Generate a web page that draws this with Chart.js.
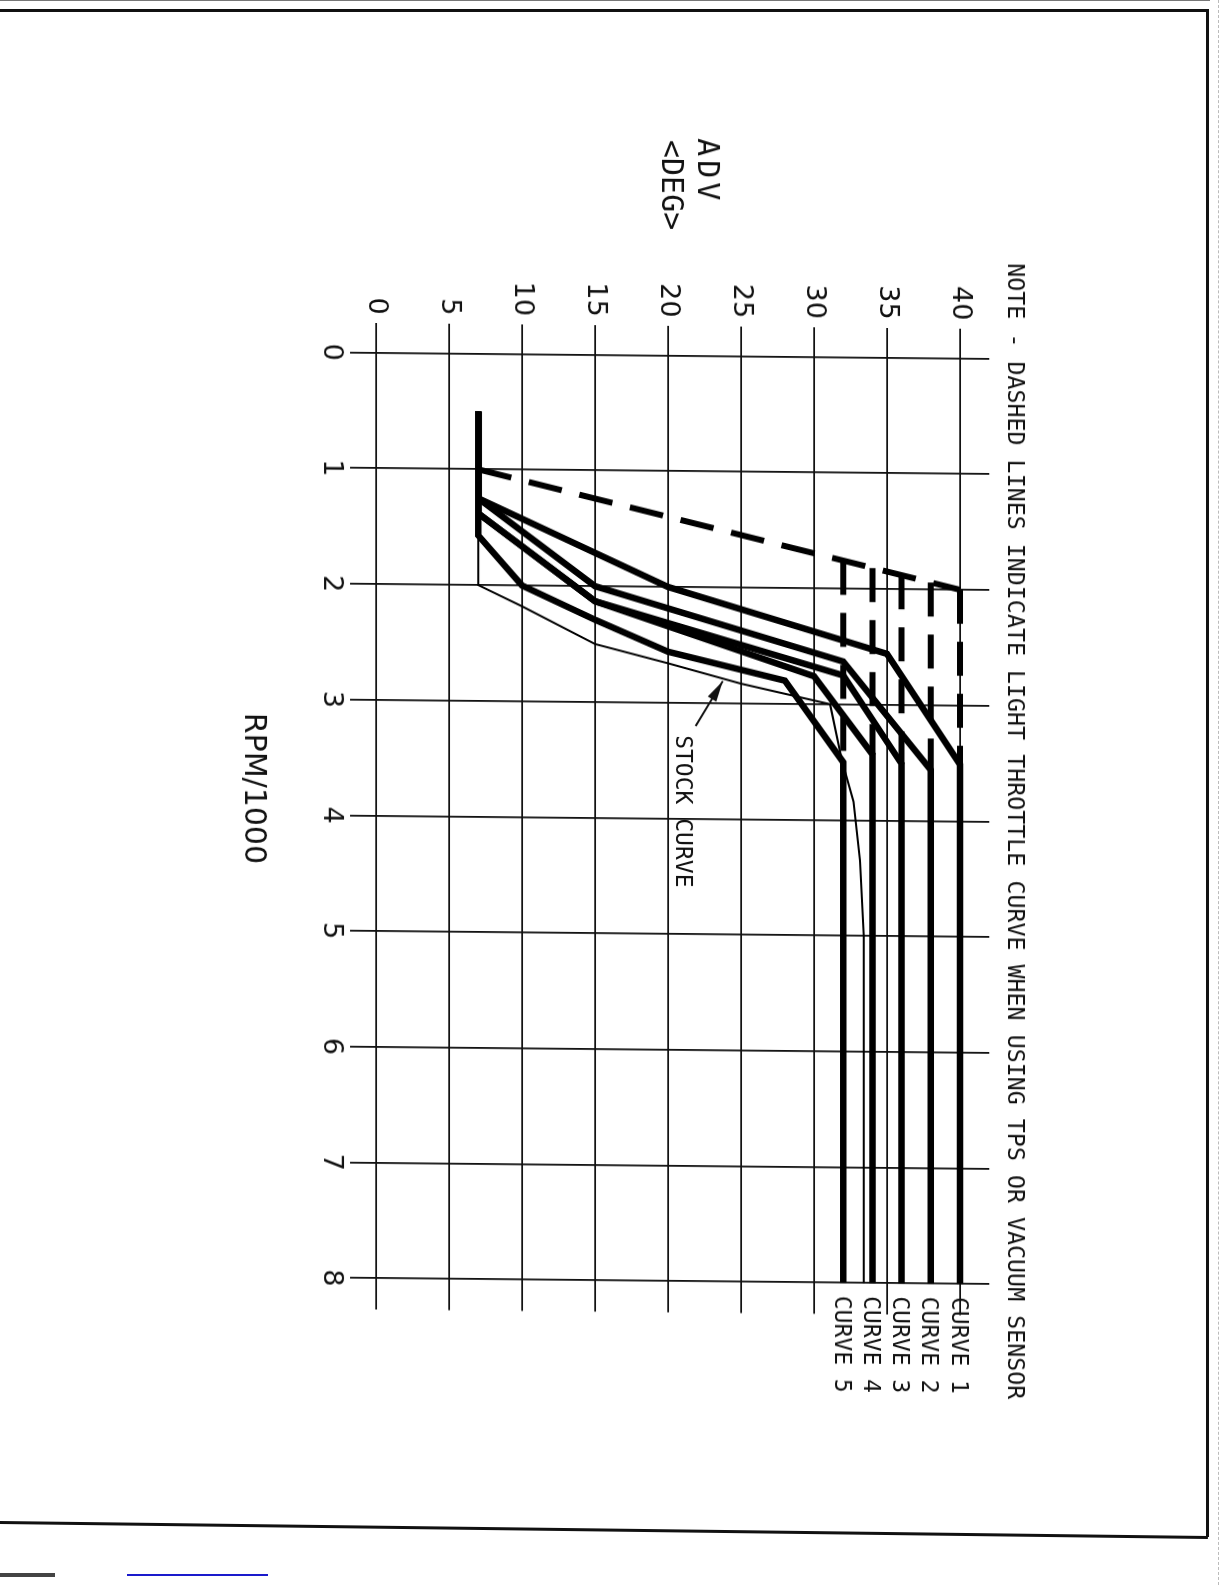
<!DOCTYPE html>
<html>
<head>
<meta charset="utf-8">
<script src="https://cdn.jsdelivr.net/npm/chart.js@4.4.0/dist/chart.umd.min.js"></script>
<style>
html,body{margin:0;padding:0;background:#fff;}
body{width:1225px;height:1585px;position:relative;overflow:hidden;}
/* the scanned sheet is slightly skewed, and the plot itself is turned a quarter turn */
#sheet{position:absolute;left:0;top:0;width:1225px;height:1585px;transform-origin:376px 352px;transform:skewY(0.56deg);}
#turn{position:absolute;left:0;top:0;width:1585px;height:1225px;transform-origin:0 0;transform:translateX(1225px) rotate(90deg);}
.rule{position:absolute;background:#111;}
</style>
</head>
<body>

<div id="sheet">
  <div id="turn">
    <canvas id="advanceChart" width="1585" height="1225"></canvas>
  </div>
</div>

<!-- page frame and scan marks -->
<div class="rule" style="left:0;top:0;width:1210px;height:1px;background:#777"></div>
<div class="rule" style="left:0;top:9px;width:1209px;height:3px"></div>
<div class="rule" style="left:1206px;top:9px;width:3px;height:1528px"></div>
<div class="rule" style="left:0;top:1521px;width:1208px;height:3px;transform-origin:0 50%;transform:rotate(0.71deg)"></div>
<div class="rule" style="left:1218px;top:0;width:0;height:1585px;background:none;border-left:1px dashed #bbb"></div>
<div class="rule" style="left:127px;top:1574px;width:141px;height:2px;background:#1a1acc"></div>
<div class="rule" style="left:0;top:1573px;width:55px;height:4px;background:#444"></div>

<script>
/* DATA  (rpm/1000, advance deg) */

const RPM_TICKS = [0, 1, 2, 3, 4, 5, 6, 7, 8];
const ADV_TICKS = [0, 5, 10, 15, 20, 25, 30, 35, 40];

const CURVE_NAMES = ["CURVE 1", "CURVE 2", "CURVE 3", "CURVE 4", "CURVE 5"];

const CURVE_1 = [[0.5,7],[1.25,7],[2.0,20],[2.56,35],[3.51,40],[8,40]];
const CURVE_2 = [[0.5,7],[1.25,7],[2.0,15],[2.63,32],[3.56,38],[8,38]];
const CURVE_3 = [[0.5,7],[1.38,7],[2.13,15],[2.75,32],[3.51,36],[8,36]];
const CURVE_4 = [[0.5,7],[1.38,7],[2.13,15],[2.76,30],[3.43,34],[8,34]];
const CURVE_5 = [[0.5,7],[1.57,7],[2.0,10],[2.29,15],[2.56,20],[2.8,28],[3.5,32],[8,32]];

const STOCK_CURVE = [[0.5,7],[2.0,7],[2.18,10],[2.5,15],[2.66,20],[2.83,25],[3.0,31.1],
  [3.48,31.9],[3.84,32.7],[4.35,33.15],[5.0,33.4],[8,33.4]];

// light throttle (dashed) : ramp, then drop at each curve's top advance
const LIGHT_THROTTLE = [[1.0,7],[2.0,40]];
const LIGHT_DROP_1 = [[2.0,40],[3.51,40]];
const LIGHT_DROP_2 = [[1.94,38],[3.56,38]];
const LIGHT_DROP_3 = [[1.88,36],[3.51,36]];
const LIGHT_DROP_4 = [[1.82,34],[3.43,34]];
const LIGHT_DROP_5 = [[1.76,32],[3.5,32]];

const NOTE_TEXT = "NOTE - DASHED LINES INDICATE LIGHT THROTTLE CURVE WHEN USING TPS OR VACUUM SENSOR";
const STOCK_LABEL = "STOCK CURVE";
const STOCK_LABEL_AT = [3.28, 21.1];
const STOCK_ARROW_FROM = [3.2, 21.9];
const STOCK_ARROW_TO = [2.81, 23.75];

const CURVES = [CURVE_1, CURVE_2, CURVE_3, CURVE_4, CURVE_5];
const LIGHT_DROPS = [LIGHT_DROP_1, LIGHT_DROP_2, LIGHT_DROP_3, LIGHT_DROP_4, LIGHT_DROP_5];

const INK = "#000";
const GRID = "#111";
const MONO = '"DejaVu Sans Mono"';
const SANS = '"DejaVu Sans"';

function toPoints(list){
  return list.map(([x, y]) => ({x, y}));
}

function solid(list, width){
  return {
    data: toPoints(list),
    borderColor: INK,
    borderWidth: width,
    pointRadius: 0,
    tension: 0,
    fill: false,
    borderJoinStyle: "miter"
  };
}

function dashed(list){
  return {
    data: toPoints(list),
    borderColor: INK,
    borderWidth: 6,
    borderDash: [34, 18],
    pointRadius: 0,
    tension: 0,
    fill: false
  };
}

/* TEXT ON THE SHEET */

const sheetText = {
  id: "sheetText",
  afterDraw(chart){

    const {ctx} = chart;
    const {x, y} = chart.scales;

    const put = (txt, px, mid, size, family, spacing) => {
      ctx.font = size + "px " + family;
      ctx.letterSpacing = (spacing || 0) + "px";
      ctx.textAlign = "left";
      ctx.textBaseline = "alphabetic";
      ctx.fillText(txt, px, mid + size * 0.365);
    };

    ctx.save();
    ctx.fillStyle = GRID;

    put(NOTE_TEXT, 257, 208, 23.3, MONO);
    put("ADV", 135, 516, 30, MONO, 4);
    put("<DEG>", 137, 552, 30, MONO);
    put("RPM/1000", 714, 969, 30, SANS);

    CURVES.forEach((c, i) => {
      const top = c[c.length - 1];
      put(CURVE_NAMES[i], x.getPixelForValue(8) + 13, y.getPixelForValue(top[1]), 23, MONO);
    });

    put(STOCK_LABEL,
      x.getPixelForValue(STOCK_LABEL_AT[0]),
      y.getPixelForValue(STOCK_LABEL_AT[1]), 23, MONO);

    // arrow to stock curve
    const x0 = x.getPixelForValue(STOCK_ARROW_FROM[0]);
    const y0 = y.getPixelForValue(STOCK_ARROW_FROM[1]);
    const x1 = x.getPixelForValue(STOCK_ARROW_TO[0]);
    const y1 = y.getPixelForValue(STOCK_ARROW_TO[1]);
    const ang = Math.atan2(y1 - y0, x1 - x0);

    ctx.strokeStyle = GRID;
    ctx.lineWidth = 2;
    ctx.beginPath();
    ctx.moveTo(x0, y0);
    ctx.lineTo(x1, y1);
    ctx.stroke();

    ctx.beginPath();
    ctx.moveTo(x1, y1);
    ctx.lineTo(x1 - 21 * Math.cos(ang) + 5 * Math.sin(ang), y1 - 21 * Math.sin(ang) - 5 * Math.cos(ang));
    ctx.lineTo(x1 - 21 * Math.cos(ang) - 5 * Math.sin(ang), y1 - 21 * Math.sin(ang) + 5 * Math.cos(ang));
    ctx.closePath();
    ctx.fill();

    ctx.restore();
  }
};

/* CHART */

const datasets = [
  ...CURVES.map(c => solid(c, 6.5)),
  solid(STOCK_CURVE, 2),
  dashed(LIGHT_THROTTLE),
  ...LIGHT_DROPS.map(d => dashed(d))
];

new Chart(document.getElementById("advanceChart"), {
  type: "line",
  data: { datasets },
  options: {
    responsive: false,
    animation: false,
    layout: {
      padding: { left: 242.6, right: 275.5, top: 235.8, bottom: 289.7 }
    },
    plugins: {
      legend: { display: false },
      tooltip: { enabled: false }
    },
    scales: {
      x: {
        type: "linear",
        min: -0.26,
        max: 8.27,
        afterBuildTicks: s => { s.ticks = RPM_TICKS.map(v => ({value: v})); },
        afterFit: s => { s.height = 60; },
        grid: { color: GRID, lineWidth: 1.8, drawTicks: false },
        border: { display: false },
        ticks: {
          color: GRID,
          padding: 2,
          autoSkip: false,
          maxRotation: 0,
          font: { family: SANS, size: 27 },
          callback: v => String(v)
        }
      },
      y: {
        type: "linear",
        min: -1.8,
        max: 42,
        afterBuildTicks: s => { s.ticks = ADV_TICKS.map(v => ({value: v})); },
        afterFit: s => { s.width = 80; },
        grid: { color: GRID, lineWidth: 1.8, drawTicks: false },
        border: { display: false },
        ticks: {
          color: GRID,
          padding: 8,
          font: { family: SANS, size: 27 },
          callback: v => String(v)
        }
      }
    }
  },
  plugins: [sheetText]
});
</script>
</body>
</html>
